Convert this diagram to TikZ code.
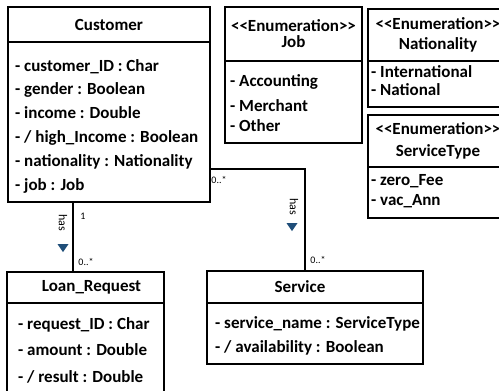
\documentclass[tikz,border=0pt]{standalone}
\usepackage{fontspec}
\setmainfont{Carlito}
\usetikzlibrary{positioning,shapes.geometric}
\definecolor{hasblue}{RGB}{31,78,121}
\newcommand{\enumhead}{<\kern0pt<Enumeration>\kern0pt>}

\begin{document}
\begin{tikzpicture}[x=1pt, y=-1pt,
    every node/.style={font=\fontsize{17}{20}\selectfont\bfseries},
    classbox/.style={rectangle, draw, line width=2.6pt, inner sep=0pt, outer sep=0pt, align=center},
    attrs/.style={inner sep=0pt, align=left},
    connector/.style={line width=2.2pt},
    mult/.style={font=\fontsize{10}{10}\selectfont, inner sep=0pt},
    rolename/.style={font=\fontsize{12}{12}\selectfont, inner sep=0pt, rotate=-90},
    navarrow/.style={isosceles triangle, fill=hasblue, draw=none, shape border rotate=270, inner sep=0pt,
        minimum width=11pt, minimum height=8pt, isosceles triangle stretches}]
    \path[use as bounding box, clip] (0,0) rectangle (499,391);

    % classes
    \node at (109,24.5) [classbox, minimum width=202pt, minimum height=35pt] (CustomerTitle) {Customer};
    \node [classbox, minimum width=202pt, minimum height=160pt, below=0pt of CustomerTitle] (CustomerBody) {};
    \node [attrs, below right=17pt and 7pt of CustomerBody.north west] (CustomerAttrs)
        {- customer\_ID : Char\\[3.8pt] - gender : Boolean\\[3.8pt] - income : Double\\[3.8pt]
         - / high\_Income : Boolean\\[3.8pt] - nationality : Nationality\\[3.8pt] - job : Job};

    \node at (85.5,287.5) [classbox, minimum width=157pt, minimum height=31pt] (LoanTitle) {\hspace*{12pt}Loan\_Request};
    \node [classbox, minimum width=157pt, minimum height=97pt, below=0pt of LoanTitle] (LoanBody) {};
    \node [attrs, below right=14pt and 11pt of LoanBody.north west] (LoanAttrs)
        {- request\_ID : Char\\[6.5pt] - amount : Double\\[6.5pt] - / result : Double};

    \node at (315,287) [classbox, minimum width=216pt, minimum height=32pt] (ServiceTitle) {\hspace*{-30pt}Service};
    \node [classbox, minimum width=216pt, minimum height=61pt, below=0pt of ServiceTitle] (ServiceBody) {};
    \node [attrs, below right=13pt and 8pt of ServiceBody.north west] (ServiceAttrs)
        {- service\_name : ServiceType\\[4pt] - / availability : Boolean};

    % enumerations
    \node at (293.5,34) [classbox, minimum width=137pt, minimum height=54pt] (JobTitle) {\enumhead\\[-4pt] Job};
    \node [classbox, minimum width=137pt, minimum height=82pt, below=0pt of JobTitle] (JobBody) {};
    \node [attrs, below right=13pt and 5pt of JobBody.north west] (JobItems)
        {- Accounting\\[5pt] - Merchant\\[0pt] - Other};

    \node at (438,35) [classbox, minimum width=140pt, minimum height=52pt] (NationalityTitle) {\enumhead\\[0pt] Nationality};
    \node [classbox, minimum width=140pt, minimum height=46pt, below=0pt of NationalityTitle] (NationalityBody) {};
    \node [attrs, below right=4pt and 3pt of NationalityBody.north west] (NationalityItems)
        {- International\\[-2pt] - National};

    \node at (438,141) [classbox, minimum width=140pt, minimum height=52pt] (ServiceTypeTitle) {\enumhead\\[2pt] ServiceType};
    \node [classbox, minimum width=140pt, minimum height=51pt, below=0pt of ServiceTypeTitle] (ServiceTypeBody) {};
    \node [attrs, below right=7pt and 3pt of ServiceTypeBody.north west] (ServiceTypeItems)
        {- zero\_Fee\\[0pt] - vac\_Ann};

    % associations
    \coordinate (LoanEnd) at ([xshift=-12.5pt]LoanTitle.north);
    \coordinate (ServiceEnd) at ([xshift=-10pt]ServiceTitle.north);
    \coordinate (CustomerExit) at ([yshift=-47pt]CustomerBody.east);
    \draw[connector] (LoanEnd |- CustomerBody.south) -- (LoanEnd);
    \draw[connector] (CustomerExit) -| (ServiceEnd);

    \node at (83,216) [mult] (LoanOne) {1};
    \node at (86,262) [mult] (LoanMany) {0..*};
    \node at (219,180) [mult] (CustomerMany) {0..*};
    \node at (318,260) [mult] (ServiceMany) {0..*};

    \node at (63,223) [rolename] (LoanHas) {has};
    \node at (63,247) [navarrow] (LoanArrow) {};
    \node at (294,207) [rolename] (ServiceHas) {has};
    \node at (292,226) [navarrow] (ServiceArrow) {};
\end{tikzpicture}
\end{document}
